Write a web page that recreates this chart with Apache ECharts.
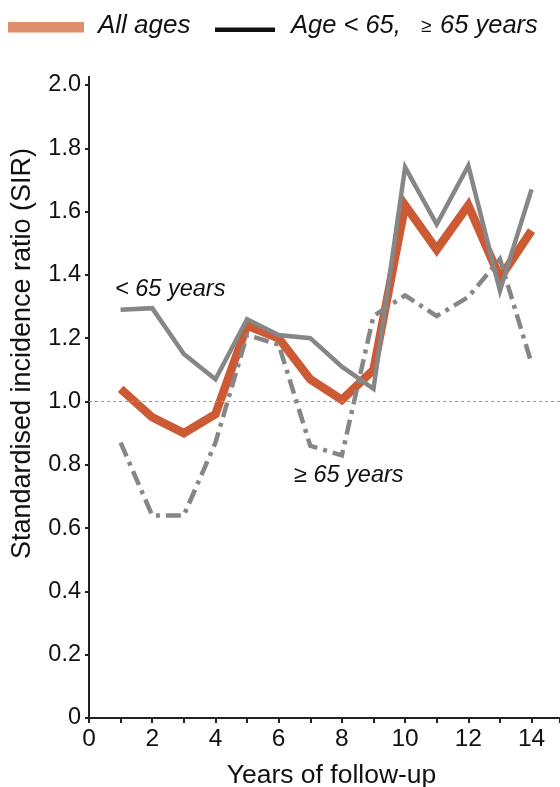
<!DOCTYPE html>
<html>
<head>
<meta charset="utf-8">
<script src="https://cdn.jsdelivr.net/npm/echarts@6/dist/echarts.min.js"></script>
<style>
html,body{margin:0;padding:0;background:#fff;}
#chart{width:560px;height:787px;}
</style>
</head>
<body>
<div id="chart"></div>
<script>
// Years of follow-up
var years = [1, 2, 3, 4, 5, 6, 7, 8, 9, 10, 11, 12, 13, 14];
// SIR, all ages
var allAges = [1.04, 0.95, 0.90, 0.96, 1.24, 1.20, 1.07, 1.005, 1.10, 1.62, 1.48, 1.62, 1.39, 1.54];
// SIR, age < 65 years
var under65 = [1.29, 1.295, 1.15, 1.07, 1.26, 1.21, 1.20, 1.11, 1.04, 1.74, 1.56, 1.745, 1.35, 1.67];
// SIR, age >= 65 years
var over65 = [0.87, 0.64, 0.64, 0.87, 1.21, 1.18, 0.86, 0.83, 1.27, 1.335, 1.27, 1.33, 1.45, 1.12];
// Tick labels
var yTicks = ['0', '0.2', '0.4', '0.6', '0.8', '1.0', '1.2', '1.4', '1.6', '1.8', '2.0'];
var xTicks = ['0', '2', '4', '6', '8', '10', '12', '14'];
var refLine = 1.0;

function pairs(vals) { return years.map(function (y, i) { return [y, vals[i]]; }); }

var FONT = '"Liberation Sans", Arial, sans-serif';
var chart = echarts.init(document.getElementById('chart'), null, {renderer: 'canvas'});

var option = {
  animation: false,
  backgroundColor: '#fff',
  grid: {left: 89, right: 0, top: 85, bottom: 69, containLabel: false, outerBoundsMode: 'none'},
  xAxis: {
    type: 'value', min: 0, max: 14.9, interval: 2,
    name: 'Years of follow-up', nameLocation: 'middle', nameGap: 44,
    nameTextStyle: {fontFamily: FONT, fontSize: 26.5, color: '#111', padding: [0, 0, 0, 14]},
    axisLine: {lineStyle: {color: '#222', width: 2}},
    axisTick: {show: true, length: 5, lineStyle: {color: '#222', width: 2}},
    minorTick: {show: true, splitNumber: 2, length: 5, lineStyle: {color: '#222', width: 2}},
    splitLine: {show: false},
    axisLabel: {
      fontFamily: FONT, fontSize: 24.5, color: '#111', margin: 9, showMaxLabel: false,
      formatter: function (v) { var i = xTicks.indexOf(String(v)); return i >= 0 ? xTicks[i] : ''; }
    }
  },
  yAxis: {
    type: 'value', min: 0, max: 2.0, interval: 0.2,
    name: 'Standardised incidence ratio (SIR)', nameLocation: 'middle', nameGap: 53,
    nameTextStyle: {fontFamily: FONT, fontSize: 27, color: '#111', padding: [0, 0, 0, 96]},
    axisLine: {show: true, lineStyle: {color: '#222', width: 2}},
    axisTick: {show: true, length: 4, lineStyle: {color: '#222', width: 2}},
    splitLine: {show: false},
    axisLabel: {
      fontFamily: FONT, fontSize: 23.5, color: '#111', margin: 8,
      formatter: function (v) { return yTicks[Math.round(v / 0.2)]; }
    }
  },
  series: [
    {
      name: 'All ages', type: 'line', data: pairs(allAges), symbol: 'none',
      lineStyle: {color: '#cc5a35', width: 8.5, join: 'miter', cap: 'butt'},
      z: 2,
      markLine: {
        silent: true, symbol: ['none', 'none'], label: {show: false},
        lineStyle: {color: '#999', width: 1, type: [3, 3]},
        data: [{yAxis: refLine}]
      }
    },
    {
      name: '< 65 years', type: 'line', data: pairs(under65), symbol: 'none',
      lineStyle: {color: '#868686', width: 4.5, join: 'miter'}, z: 3
    },
    {
      name: '>= 65 years', type: 'line', data: pairs(over65), symbol: 'none',
      lineStyle: {color: '#868686', width: 4.5, type: [15, 6, 4, 6], join: 'miter'}, z: 3
    }
  ],
  graphic: [
    {type: 'line', shape: {x1: 89, y1: 76, x2: 89, y2: 86}, style: {stroke: '#222', lineWidth: 2}},
    {type: 'rect', shape: {x: 8, y: 22, width: 76, height: 10.5}, style: {fill: '#e08d6e'}},
    {type: 'text', x: 98, y: 12.5, style: {text: 'All ages', font: 'italic 26px ' + FONT, fill: '#111'}},
    {type: 'rect', shape: {x: 215, y: 27.5, width: 60, height: 4.5}, style: {fill: '#111'}},
    {type: 'text', x: 291, y: 13, style: {text: 'Age < 65,', font: 'italic 25.5px ' + FONT, fill: '#111'}},
    {type: 'text', x: 421, y: 17.5, style: {text: '≥', font: '19px ' + FONT, fill: '#111'}},
    {type: 'text', x: 440, y: 13, style: {text: '65 years', font: 'italic 25.5px ' + FONT, fill: '#111'}},
    {type: 'text', x: 115, y: 278, style: {text: '< 65 years', font: 'italic 23.5px ' + FONT, fill: '#111'}},
    {type: 'text', x: 294, y: 464, style: {text: '≥ 65 years', font: 'italic 23.5px ' + FONT, fill: '#111'}}
  ]
};
chart.setOption(option);
</script>
</body>
</html>
